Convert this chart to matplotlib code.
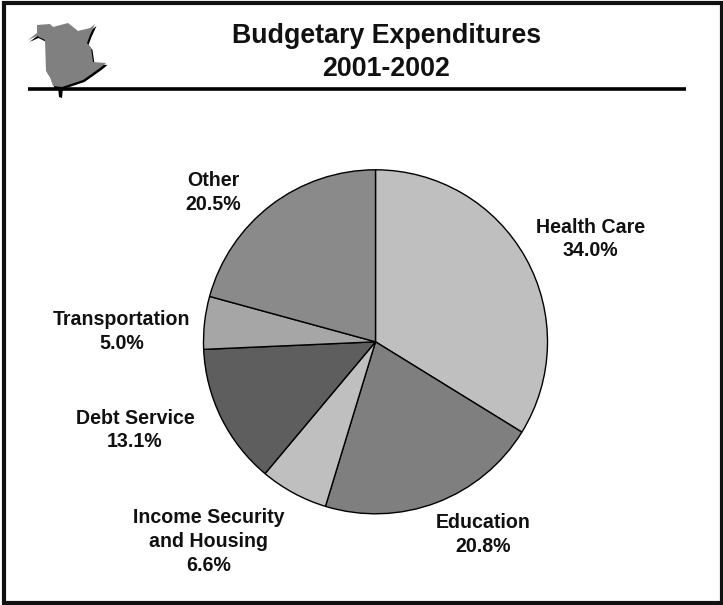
import matplotlib
matplotlib.use("Agg")
import matplotlib.pyplot as plt
from matplotlib.patches import Polygon, Rectangle

# Data
categories = ["Health Care", "Education", "Income Security\nand Housing", "Debt Service", "Transportation", "Other"]
printed_pct = ["34.0%", "20.8%", "6.6%", "13.1%", "5.0%", "20.5%"]
slice_sizes = [33.8, 20.9, 6.4, 13.2, 4.95, 20.75]
colors = ["#bfbfbf", "#7f7f7f", "#bfbfbf", "#5e5e5e", "#a6a6a6", "#8a8a8a"]
label_xy = [(590.5, 239), (483, 534.5), (208.5, 541.5), (135, 430), (121.5, 331.5), (213, 192.5)]
title = "Budgetary Expenditures\n2001-2002"

# New Brunswick logo outline, in pixels
logo = [(37, 25), (50, 24), (53, 27), (68, 23), (78, 31), (90, 28), (95, 24), (90, 35), (87, 43),
        (91, 48), (93, 62), (106, 63), (100, 68), (83, 80), (62, 87), (53, 86), (50, 77), (46, 71),
        (45, 40), (37, 36), (28, 40), (37, 33)]

W, H = 723, 605
plt.rcParams["font.family"] = ["Liberation Sans", "DejaVu Sans"]
fig = plt.figure(figsize=(W / 100, H / 100), dpi=100, facecolor="white")

# Background layer in pixel coordinates
bg = fig.add_axes([0, 0, 1, 1])
bg.set_xlim(0, W)
bg.set_ylim(H, 0)
bg.axis("off")
bg.add_patch(Rectangle((4, 3), 718, 600, fill=False, ec="#111111", lw=3.0))
bg.plot([28, 686], [89, 89], color="black", lw=2.6, solid_capstyle="butt")
bg.add_patch(Polygon([(x + 1.5, y + 2) for x, y in logo], color="black", lw=0))
bg.add_patch(Polygon(logo, fc="#808080", ec="none"))
bg.add_patch(Polygon([(58, 87), (63, 87), (62, 98), (59, 97)], color="black", lw=0))

bg.text(386.5, 52.5, title, ha="center", va="center", fontsize=19.3, fontweight="bold",
        color="#111111", linespacing=1.33)

# Pie
cx, cy, r = 375.5, 341.8, 172
ax = fig.add_axes([(cx - r) / W, 1 - (cy + r) / H, 2 * r / W, 2 * r / H])
ax.pie(slice_sizes, colors=colors, startangle=90, counterclock=False, radius=1,
       wedgeprops={"edgecolor": "black", "linewidth": 1.0})
ax.set_xlim(-1, 1)
ax.set_ylim(-1, 1)
ax.set_aspect("equal")
ax.patch.set_alpha(0)
for p in ax.patches:
    p.set_clip_on(False)

for cat, pct, (x, y) in zip(categories, printed_pct, label_xy):
    bg.text(x, y, f"{cat}\n{pct}", ha="center", va="center", fontsize=14.1,
            fontweight="bold", color="#111111", linespacing=1.31, zorder=5)

fig.savefig("out.png", dpi=100)
